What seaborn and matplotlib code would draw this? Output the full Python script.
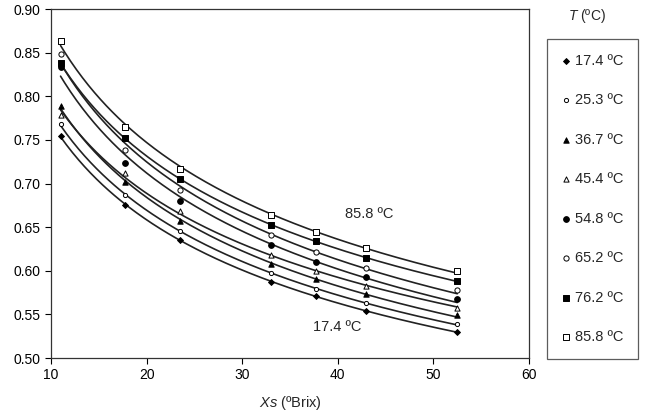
import numpy as np
import matplotlib
matplotlib.use('Agg')
import matplotlib.pyplot as plt
import seaborn as sns

# концентрация (ºBrix) и значения для каждой температуры
brix = [11.0, 17.7, 23.5, 33.0, 37.7, 43.0, 52.5]
temps = ['17.4', '25.3', '36.7', '45.4', '54.8', '65.2', '76.2', '85.8']

y_174 = [0.755, 0.675, 0.635, 0.587, 0.571, 0.554, 0.530]
y_253 = [0.768, 0.687, 0.645, 0.597, 0.579, 0.563, 0.539]
y_367 = [0.789, 0.702, 0.657, 0.608, 0.590, 0.573, 0.549]
y_454 = [0.779, 0.712, 0.668, 0.618, 0.600, 0.582, 0.557]
y_548 = [0.834, 0.724, 0.680, 0.629, 0.610, 0.593, 0.568]
y_652 = [0.848, 0.738, 0.692, 0.641, 0.621, 0.603, 0.578]
y_762 = [0.838, 0.752, 0.705, 0.652, 0.634, 0.615, 0.588]
y_858 = [0.863, 0.765, 0.717, 0.664, 0.644, 0.626, 0.600]

series = [y_174, y_253, y_367, y_454, y_548, y_652, y_762, y_858]

# стиль маркеров: (маркер, заливка, размер)
styles = [('D', 'black', 9), ('o', 'white', 9), ('^', 'black', 15), ('^', 'white', 14),
          ('o', 'black', 17), ('o', 'white', 14), ('s', 'black', 15), ('s', 'white', 15)]

sns.set_style('white')
plt.rcParams['font.family'] = ['Liberation Sans', 'DejaVu Sans']
plt.rcParams['mathtext.fontset'] = 'custom'
plt.rcParams['mathtext.rm'] = 'Liberation Sans'
plt.rcParams['mathtext.it'] = 'Liberation Sans:italic'

fig = plt.figure(figsize=(6.48, 4.11), dpi=100)
ax = fig.add_axes([51/648, 1-358/411, (529-51)/648, (358-9)/411])

xfit = np.linspace(min(brix), max(brix), 200)
for t, vals, (m, fc, s) in zip(temps, series, styles):
    # степенная аппроксимация
    c = np.polyfit(np.log(brix), np.log(vals), 1)
    yfit = np.exp(np.polyval(c, np.log(xfit)))
    sns.lineplot(x=xfit, y=yfit, color='#222222', linewidth=1.2, ax=ax, legend=False)
    sns.scatterplot(x=brix, y=vals, marker=m, s=s, color=fc, edgecolor='black',
                    linewidth=0.7, ax=ax, label=f'{t} ºC', zorder=3)

ax.get_legend().remove()
ax.set_xlim(10, 60)
ax.set_ylim(0.50, 0.90)
ax.set_xticks(range(10, 61, 10))
ax.set_yticks(np.arange(0.50, 0.91, 0.05))
ax.set_yticklabels([f'{v:.2f}' for v in np.arange(0.50, 0.91, 0.05)])
ax.tick_params(direction='out', length=4, width=0.8, labelsize=10, colors='black',
               left=True, bottom=True)
for sp in ax.spines.values():
    sp.set_color('#333333')
    sp.set_linewidth(0.9)

ax.text(40.8, 0.665, '85.8 ºC', fontsize=10.5, va='center')
ax.text(37.4, 0.535, '17.4 ºC', fontsize=10.5, va='center')

ax.set_xlabel('$Xs$ (ºBrix)', fontsize=10.5, labelpad=8)

handles, labels = ax.get_legend_handles_labels()
leg = fig.legend(handles, labels, loc='upper left', bbox_to_anchor=(547/648, 1-39/411),
                 frameon=True, fancybox=False, edgecolor='#333333', fontsize=10.5,
                 labelspacing=1.75, borderpad=1.0, handlelength=0.6, handletextpad=0.3,
                 borderaxespad=0)
leg.get_frame().set_linewidth(0.9)
fig.text(587/648, 1-16/411, '$T$ (ºC)', fontsize=10, ha='center', va='center')

plt.savefig('out.png', dpi=100)
